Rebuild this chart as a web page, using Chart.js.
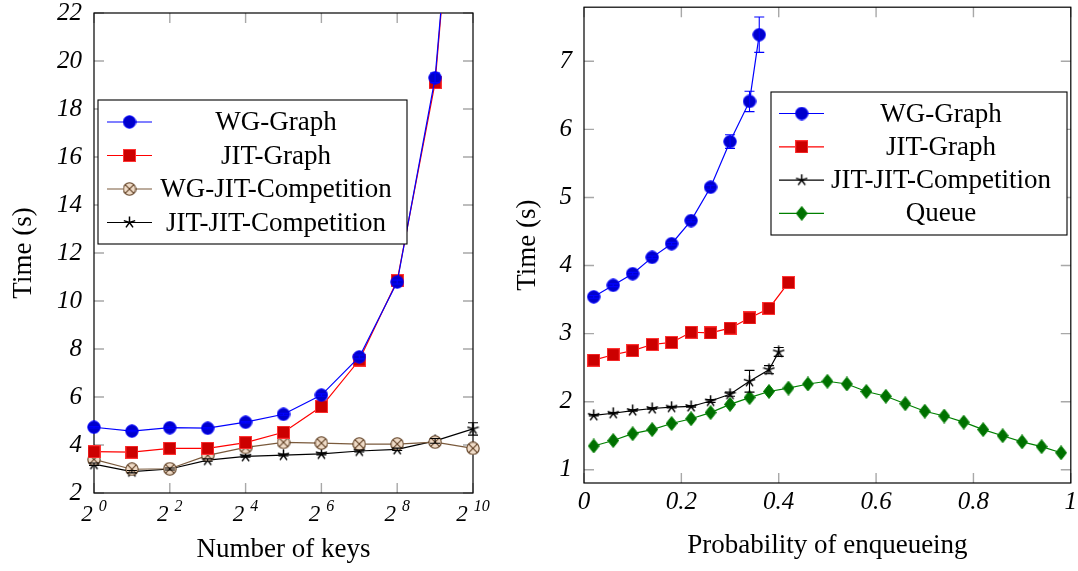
<!DOCTYPE html>
<html><head><meta charset="utf-8">
<script src="https://cdn.jsdelivr.net/npm/chart.js@4.4.1/dist/chart.umd.min.js"></script>
<style>
html,body{margin:0;padding:0;background:#fff;width:1078px;height:571px;overflow:hidden}
canvas{position:absolute;top:0}
#c1{left:0}
#c2{left:500px}
</style></head><body>
<canvas id="c1" width="500" height="571"></canvas>
<canvas id="c2" width="578" height="571"></canvas>
<script>
// ---------- Left chart data ----------
const keys = [1, 2, 4, 8, 16, 32, 64, 128, 256, 512, 1024];
const wgGraphL = [4.74, 4.58, 4.72, 4.70, 4.95, 5.28, 6.08, 7.67, 10.79, 19.3, 37.6];
const wgGraphLErr = [0.03, 0.03, 0.03, 0.03, 0.03, 0.04, 0.05, 0.08, 0.08, 0.2, 0.3];
const jitGraphL = [3.72, 3.70, 3.86, 3.86, 4.10, 4.53, 5.60, 7.54, 10.85, 19.1, 37.6];
const wgJitComp = [3.40, 2.99, 3.01, 3.57, 3.90, 4.11, 4.08, 4.04, 4.04, 4.12, 3.86];
const jitJitCompL = [3.20, 2.89, 3.00, 3.37, 3.53, 3.58, 3.63, 3.75, 3.82, 4.17, 4.67];
const jitJitCompLErr = [0.05, 0.05, 0.04, 0.05, 0.04, 0.04, 0.04, 0.04, 0.05, 0.1, 0.26];
const xTickVals = [1, 4, 16, 64, 256, 1024];
const xTickBase = '2';
const xTickExps = ['0', '2', '4', '6', '8', '10'];
const yTicksL = [2, 4, 6, 8, 10, 12, 14, 16, 18, 20, 22];

// ---------- Right chart data ----------
const pWG = [0.02, 0.06, 0.10, 0.14, 0.18, 0.22, 0.26, 0.30, 0.34, 0.36];
const wgGraphR = [3.54, 3.71, 3.88, 4.12, 4.32, 4.66, 5.15, 5.82, 6.41, 7.39];
const wgGraphRErr = [0.02, 0.02, 0.02, 0.02, 0.02, 0.02, 0.03, 0.10, 0.15, 0.26];
const pJIT = [0.02, 0.06, 0.10, 0.14, 0.18, 0.22, 0.26, 0.30, 0.34, 0.38, 0.42];
const jitGraphR = [2.61, 2.69, 2.75, 2.84, 2.87, 3.02, 3.01, 3.08, 3.23, 3.37, 3.75];
const pJJ = [0.02, 0.06, 0.10, 0.14, 0.18, 0.22, 0.26, 0.30, 0.34, 0.38, 0.40];
const jitJitCompR = [1.80, 1.83, 1.87, 1.90, 1.92, 1.93, 2.01, 2.11, 2.30, 2.47, 2.73];
const jitJitCompRErr = [0.01, 0.01, 0.01, 0.01, 0.01, 0.01, 0.02, 0.03, 0.16, 0.06, 0.065];
const pQ = [0.02, 0.06, 0.10, 0.14, 0.18, 0.22, 0.26, 0.30, 0.34, 0.38, 0.42, 0.46, 0.50,
            0.54, 0.58, 0.62, 0.66, 0.70, 0.74, 0.78, 0.82, 0.86, 0.90, 0.94, 0.98];
const queue = [1.35, 1.43, 1.53, 1.59, 1.68, 1.75, 1.84, 1.96, 2.06, 2.15, 2.20, 2.26, 2.30,
               2.26, 2.15, 2.08, 1.97, 1.86, 1.79, 1.70, 1.59, 1.50, 1.41, 1.34, 1.25];
const xTicksR = [0, 0.2, 0.4, 0.6, 0.8, 1];
const xTickLabelsR = ['0', '0.2', '0.4', '0.6', '0.8', '1'];
const yTicksR = [1, 2, 3, 4, 5, 6, 7];

// ---------- marker images ----------
function marker(kind, fill, stroke, w, h, lw) {
  const c = document.createElement('canvas');
  c.width = w; c.height = h;
  const g = c.getContext('2d');
  g.fillStyle = fill; g.strokeStyle = stroke; g.lineWidth = lw || 1;
  const cx = w / 2, cy = h / 2;
  if (kind === 'circle' || kind === 'ocross') {
    g.beginPath(); g.arc(cx, cy, w / 2 - 0.8, 0, Math.PI * 2); g.fill(); g.stroke();
    if (kind === 'ocross') {
      const r = (w / 2 - 0.8) * 0.7071;
      g.beginPath();
      g.moveTo(cx - r, cy - r); g.lineTo(cx + r, cy + r);
      g.moveTo(cx + r, cy - r); g.lineTo(cx - r, cy + r);
      g.stroke();
    }
  } else if (kind === 'square') {
    g.fillRect(0.5, 0.5, w - 1, h - 1); g.strokeRect(0.5, 0.5, w - 1, h - 1);
  } else if (kind === 'star') {
    const r = w / 2 - 0.5;
    g.beginPath();
    for (let k = 0; k < 5; k++) {
      const a = -Math.PI / 2 + k * 2 * Math.PI / 5;
      g.moveTo(cx, cy); g.lineTo(cx + r * Math.cos(a), cy + r * Math.sin(a));
    }
    g.stroke();
  } else if (kind === 'diamond') {
    g.beginPath();
    g.moveTo(cx, 0.5); g.lineTo(w - 0.5, cy); g.lineTo(cx, h - 0.5); g.lineTo(0.5, cy); g.closePath();
    g.fill(); g.stroke();
  }
  return c;
}
const mBlue = marker('circle', '#0000cc', '#0000ff', 14, 14);
const mRed = marker('square', '#cc0000', '#ff3333', 13, 13);
const mBrown = marker('ocross', '#f0dcc8', '#5e3e22', 14, 14, 1.1);
const mStar = marker('star', '#000', '#000', 13, 13, 1.5);
const mGreen = marker('diamond', '#007000', '#008000', 12, 15);

// ---------- plugins ----------
const frameTicks = {
  id: 'frameTicks',
  beforeDatasetsDraw(chart) {
    const { ctx, chartArea: a } = chart;
    const x = chart.scales.x, y = chart.scales.y;
    const L = 10;
    ctx.save();
    ctx.strokeStyle = '#a8a8a8'; ctx.lineWidth = 1.4;
    ctx.beginPath();
    x.ticks.forEach(t => {
      const px = x.getPixelForValue(t.value);
      ctx.moveTo(px, a.bottom); ctx.lineTo(px, a.bottom - L);
      ctx.moveTo(px, a.top); ctx.lineTo(px, a.top + L);
    });
    y.ticks.forEach(t => {
      const py = y.getPixelForValue(t.value);
      ctx.moveTo(a.left, py); ctx.lineTo(a.left + L, py);
      ctx.moveTo(a.right, py); ctx.lineTo(a.right - L, py);
    });
    ctx.stroke();
    ctx.strokeStyle = '#000'; ctx.lineWidth = 1.2;
    ctx.strokeRect(a.left, a.top, a.right - a.left, a.bottom - a.top);
    ctx.restore();
  }
};

const errorBars = {
  id: 'errorBars',
  afterDatasetsDraw(chart) {
    const { ctx } = chart;
    const y = chart.scales.y;
    const a = chart.chartArea;
    ctx.save();
    chart.data.datasets.forEach((ds, i) => {
      if (!ds.errorBars) return;
      const meta = chart.getDatasetMeta(i);
      ctx.strokeStyle = ds.borderColor; ctx.lineWidth = 1.1;
      meta.data.forEach((pt, j) => {
        const e = ds.errorBars[j];
        const v = ds.data[j].y;
        if (!e || v > y.max) return;
        const top = Math.max(y.getPixelForValue(v + e), a.top);
        const bot = y.getPixelForValue(v - e);
        const px = pt.x;
        ctx.beginPath();
        ctx.moveTo(px, top); ctx.lineTo(px, bot);
        ctx.moveTo(px - 5, top); ctx.lineTo(px + 5, top);
        ctx.moveTo(px - 5, bot); ctx.lineTo(px + 5, bot);
        ctx.stroke();
      });
    });
    ctx.restore();
  }
};

const boxLegend = {
  id: 'boxLegend',
  afterDatasetsDraw(chart, args, o) {
    if (!o || !o.box) return;
    const { ctx } = chart;
    ctx.save();
    const [x0, y0, x1, y1] = o.box;
    ctx.fillStyle = '#fff'; ctx.fillRect(x0, y0, x1 - x0, y1 - y0);
    ctx.strokeStyle = '#000'; ctx.lineWidth = 1.1; ctx.strokeRect(x0, y0, x1 - x0, y1 - y0);
    ctx.font = '27px "Liberation Serif", "Times New Roman", serif';
    ctx.textAlign = 'center'; ctx.textBaseline = 'alphabetic';
    chart.data.datasets.forEach((ds, i) => {
      const ry = o.rowY0 + i * o.rowDy;
      ctx.strokeStyle = ds.borderColor; ctx.lineWidth = 1.2;
      ctx.beginPath(); ctx.moveTo(o.lineX0, ry); ctx.lineTo(o.lineX1, ry); ctx.stroke();
      const img = ds.pointStyle;
      ctx.drawImage(img, o.markX - img.width / 2, ry - img.height / 2);
      ctx.fillStyle = '#000';
      ctx.fillText(ds.label, o.textX, ry + 8);
    });
    ctx.restore();
  }
};

const powTicks = {
  id: 'powTicks',
  afterDraw(chart, args, o) {
    if (!o || !o.exps) return;
    const { ctx } = chart;
    const x = chart.scales.x, a = chart.chartArea;
    ctx.save(); ctx.fillStyle = '#000'; ctx.textBaseline = 'alphabetic'; ctx.textAlign = 'left';
    const fb = 'italic 23px "Liberation Serif", serif';
    const fe = 'italic 16px "Liberation Serif", serif';
    x.ticks.forEach((t, i) => {
      const e = o.exps[i];
      ctx.font = fb; const wb = ctx.measureText(o.base).width;
      ctx.font = fe; const we = ctx.measureText(e).width;
      const gap = 6;
      const px = x.getPixelForValue(t.value);
      const sx = px - (wb + gap + we) / 2;
      ctx.font = fb; ctx.fillText(o.base, sx, a.bottom + 28);
      ctx.font = fe; ctx.fillText(e, sx + wb + gap, a.bottom + 18);
    });
    ctx.restore();
  }
};

const tickFont = { family: '"Liberation Serif", serif', style: 'italic', size: 25 };
const titleFont = { family: '"Liberation Serif", "Times New Roman", serif', size: 27, lineHeight: 1.2 };

function ds(label, xs, ys, color, img, extra) {
  return Object.assign({
    label, data: xs.map((v, i) => ({ x: v, y: ys[i] })),
    borderColor: color, backgroundColor: color, borderWidth: 1.2,
    pointStyle: img, pointRadius: 6, pointHoverRadius: 6, tension: 0
  }, extra || {});
}

// ---------- Left chart ----------
const clipL = { left: 12, top: 0, right: 12, bottom: 12 };
new Chart(document.getElementById('c1'), {
  type: 'line',
  data: {
    datasets: [
      ds('WG-Graph', keys, wgGraphL, '#0000ff', mBlue, { errorBars: wgGraphLErr, clip: clipL }),
      ds('JIT-Graph', keys, jitGraphL, '#ff0000', mRed, { clip: clipL }),
      ds('WG-JIT-Competition', keys, wgJitComp, '#7a5a3c', mBrown, { clip: clipL }),
      ds('JIT-JIT-Competition', keys, jitJitCompL, '#000000', mStar, { errorBars: jitJitCompLErr, clip: clipL })
    ]
  },
  options: {
    responsive: false, animation: false, devicePixelRatio: 1,
    events: [],
    layout: { padding: { top: 13, right: 27, left: 0, bottom: 0 } },
    plugins: {
      legend: { display: false }, tooltip: { enabled: false },
      boxLegend: { box: [98, 100, 407, 244], rowY0: 122, rowDy: 33.5, lineX0: 107, lineX1: 152, markX: 129.5, textX: 276 },
      powTicks: { base: xTickBase, exps: xTickExps }
    },
    scales: {
      x: {
        type: 'logarithmic', min: 1, max: 1024,
        grid: { display: false, drawTicks: false }, border: { display: false },
        afterBuildTicks: s => { s.ticks = xTickVals.map(v => ({ value: v })); },
        ticks: { display: false },
        afterFit: s => { s.height = 78; s.paddingLeft = 0; s.paddingRight = 0; },
        title: { display: true, text: 'Number of keys', color: '#000', font: titleFont, padding: { top: 0, bottom: 4.5 } }
      },
      y: {
        min: 2, max: 22,
        grid: { display: false, drawTicks: false }, border: { display: false },
        afterBuildTicks: s => { s.ticks = yTicksL.map(v => ({ value: v })); },
        ticks: { color: '#000', font: tickFont, padding: 12, callback: v => String(v) },
        afterFit: s => { s.width = 94; s.paddingTop = 0; s.paddingBottom = 0; },
        title: { display: true, text: 'Time (s)', color: '#000', font: titleFont, padding: { top: 8, bottom: 0 } }
      }
    }
  },
  plugins: [frameTicks, errorBars, boxLegend, powTicks]
});

// ---------- Right chart ----------
new Chart(document.getElementById('c2'), {
  type: 'line',
  data: {
    datasets: [
      ds('WG-Graph', pWG, wgGraphR, '#0000ff', mBlue, { errorBars: wgGraphRErr, clip: false }),
      ds('JIT-Graph', pJIT, jitGraphR, '#ff0000', mRed, { clip: false }),
      ds('JIT-JIT-Competition', pJJ, jitJitCompR, '#000000', mStar, { errorBars: jitJitCompRErr, clip: false }),
      ds('Queue', pQ, queue, '#008000', mGreen, { clip: false })
    ]
  },
  options: {
    responsive: false, animation: false, devicePixelRatio: 1,
    events: [],
    layout: { padding: { top: 4, right: 6, left: 0, bottom: 0 } },
    plugins: {
      legend: { display: false }, tooltip: { enabled: false },
      boxLegend: { box: [271, 92, 567, 235], rowY0: 113.5, rowDy: 33.3, lineX0: 279, lineX1: 324, markX: 301.7, textX: 441 }
    },
    scales: {
      x: {
        type: 'linear', min: 0, max: 1,
        grid: { display: false, drawTicks: false }, border: { display: false },
        afterBuildTicks: s => { s.ticks = xTicksR.map(v => ({ value: v })); },
        ticks: { color: '#000', font: tickFont, padding: 4, maxRotation: 0, autoSkip: false,
                 callback: (v, i) => xTickLabelsR[i] },
        afterFit: s => { s.height = 88; s.paddingLeft = 0; s.paddingRight = 0; },
        title: { display: true, text: 'Probability of enqueueing', color: '#000', font: titleFont, padding: { top: 0, bottom: 8.5 } }
      },
      y: {
        min: 0.806, max: 7.794,
        grid: { display: false, drawTicks: false }, border: { display: false },
        afterBuildTicks: s => { s.ticks = yTicksR.map(v => ({ value: v })); },
        ticks: { color: '#000', font: tickFont, padding: 12, callback: v => String(v) },
        afterFit: s => { s.width = 84; s.paddingTop = 0; s.paddingBottom = 0; },
        title: { display: true, text: 'Time (s)', color: '#000', font: titleFont, padding: { top: 12, bottom: 0 } }
      }
    }
  },
  plugins: [frameTicks, errorBars, boxLegend]
});
</script>
</body></html>
